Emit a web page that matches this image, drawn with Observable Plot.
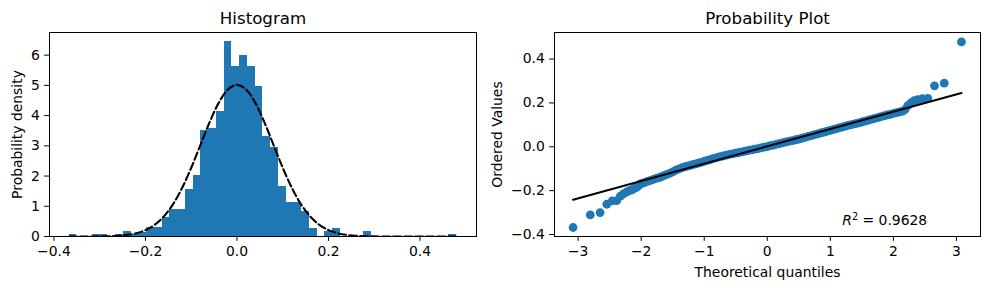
<!DOCTYPE html>
<html><head><meta charset="utf-8">
<script src="https://cdn.jsdelivr.net/npm/d3@7"></script>
<script src="https://cdn.jsdelivr.net/npm/@observablehq/plot@0.6"></script>
<style>
body{margin:0;background:white;}
#wrap{position:relative;width:989px;height:290px;background:white;overflow:hidden;}
#wrap svg{position:absolute;top:0;}
</style></head><body><div id="wrap"></div>
<script>
// ---- Histogram data (50 bins) ----
const binStart = -0.367;
const binWidth = 0.01694;
const binDensity = [
  0.066, 0, 0, 0.066, 0.066, 0, 0.066, 0.176, 0.066, 0.13,
  0.286, 0.286, 0.637, 0.90, 0.90, 1.56, 2.02, 3.52, 3.57, 4.14,
  6.44, 5.615, 5.98, 5.615, 4.96, 3.31, 2.96, 1.67, 1.11, 1.11,
  0.835, 0.275, 0, 0.176, 0.275, 0, 0, 0, 0.176, 0,
  0, 0, 0, 0, 0, 0, 0, 0, 0, 0.066
];
// fitted normal density curve (dashed)
const curveX = [-0.367,-0.34,-0.32,-0.30,-0.28,-0.26,-0.24,-0.22,-0.20,-0.18,-0.16,-0.14,-0.12,-0.10,-0.08,-0.06,-0.04,-0.02,0,
  0.02,0.04,0.06,0.08,0.10,0.12,0.14,0.16,0.18,0.20,0.22,0.24,0.26,0.28,0.30,0.32,0.34,0.38,0.42,0.46,0.48];
const curveY = [0.000,0.001,0.002,0.004,0.010,0.024,0.053,0.109,0.212,0.387,0.662,1.064,1.606,2.275,3.024,3.775,4.421,4.861,5.018,
  4.861,4.421,3.775,3.024,2.275,1.606,1.064,0.662,0.387,0.212,0.109,0.053,0.024,0.010,0.004,0.002,0.001,0,0,0,0];
const histXTicks = [-0.4, -0.2, 0.0, 0.2, 0.4];
const histYTicks = [0, 1, 2, 3, 4, 5, 6];

// ---- Probability plot data ----
const qqTheoretical = [
  -3.08,-2.807,-2.652,-2.545,-2.459,-2.388,-2.330,-2.277,-2.229,-2.186,-2.146,-2.110,-2.076,-2.045,-2.016,
  -2.00,-1.95,-1.90,-1.85,-1.80,-1.75,-1.70,-1.65,-1.60,-1.55,-1.50,-1.45,-1.40,-1.35,-1.30,-1.25,-1.20,-1.15,-1.10,-1.05,
  -1.00,-0.95,-0.90,-0.85,-0.80,-0.75,-0.70,-0.65,-0.60,-0.55,-0.50,-0.45,-0.40,-0.35,-0.30,-0.25,-0.20,-0.15,-0.10,-0.05,
  0.00,0.05,0.10,0.15,0.20,0.25,0.30,0.35,0.40,0.45,0.50,0.55,0.60,0.65,0.70,0.75,0.80,0.85,0.90,0.95,
  1.00,1.05,1.10,1.15,1.20,1.25,1.30,1.35,1.40,1.45,1.50,1.55,1.60,1.65,1.70,1.75,1.80,1.85,1.90,1.95,
  2.00,2.05,2.10,2.146,2.186,2.229,2.277,2.330,2.388,2.459,2.545,2.652,2.807,3.08
];
const qqOrdered = [
  -0.368,-0.310,-0.300,-0.262,-0.247,-0.245,-0.225,-0.214,-0.206,-0.200,-0.196,-0.190,-0.185,-0.178,-0.170,
  -0.168,-0.163,-0.158,-0.153,-0.148,-0.143,-0.139,-0.133,-0.127,-0.121,-0.114,-0.107,-0.101,-0.095,-0.091,-0.087,-0.083,-0.079,-0.075,-0.071,
  -0.066,-0.062,-0.058,-0.053,-0.049,-0.045,-0.042,-0.038,-0.035,-0.032,-0.029,-0.026,-0.023,-0.020,-0.017,-0.014,-0.011,-0.008,-0.005,-0.002,
  0.001,0.005,0.008,0.012,0.015,0.019,0.022,0.026,0.028,0.032,0.035,0.039,0.043,0.047,0.051,0.055,0.059,0.063,0.067,0.071,
  0.075,0.079,0.083,0.087,0.091,0.095,0.099,0.102,0.106,0.109,0.113,0.117,0.121,0.125,0.129,0.133,0.137,0.141,0.145,0.148,
  0.152,0.156,0.159,0.163,0.170,0.188,0.200,0.210,0.215,0.219,0.221,0.278,0.290,0.478
];
const fitX = [-3.08, 3.08];
const fitY = [-0.241, 0.245];
const qqXTicks = [-3, -2, -1, 0, 1, 2, 3];
const qqYTicks = [-0.4, -0.2, 0.0, 0.2, 0.4];
const rSquaredText = "0.9628";

// ---- build ----
const blue = "#1f77b4";
const baseStyle = {fontFamily: "DejaVu Sans", fontSize: "13.9px", color: "black", background: "white", overflow: "visible"};
const tick = {tickSize: 4.86, tickPadding: 4.86, label: null};

const histData = binDensity
  .map((d, i) => ({x1: binStart + i * binWidth, x2: binStart + (i + 1) * binWidth, y: d}))
  .filter(d => d.y > 0);
const curveData = curveX.map((x, i) => ({x, y: curveY[i]}));

const left = Plot.plot({
  width: 490, height: 290,
  marginLeft: 49, marginRight: 14, marginTop: 32, marginBottom: 54,
  style: baseStyle,
  x: {domain: [-0.4098, 0.5235], ticks: histXTicks, tickFormat: d3.format(".1f"), ...tick},
  y: {domain: [0, 6.75], ticks: histYTicks, tickFormat: d3.format("d"), ...tick},
  marks: [
    Plot.rectY(histData, {x1: "x1", x2: "x2", y: "y", fill: blue, inset: 0, shapeRendering: "crispEdges"}),
    Plot.line(curveData, {x: "x", y: "y", stroke: "black", strokeWidth: 2.08, strokeDasharray: "7.7,3.3", curve: "catmull-rom", clip: true}),
    Plot.frame({stroke: "black", strokeWidth: 1}),
    Plot.text(["Histogram"], {frameAnchor: "top", dy: -9, lineAnchor: "bottom", textAnchor: "middle", fontSize: 16.67}),
    Plot.text(["Probability density"], {frameAnchor: "left", rotate: -90, dx: -28, lineAnchor: "bottom", textAnchor: "middle"})
  ]
});

const qqData = qqTheoretical.map((q, i) => ({x: q, y: qqOrdered[i]}));
const fitData = fitX.map((x, i) => ({x, y: fitY[i]}));
const rLabel = "R2 = " + rSquaredText;

const right = Plot.plot({
  width: 499, height: 290,
  marginLeft: 64, marginRight: 9, marginTop: 32, marginBottom: 54,
  style: baseStyle,
  x: {domain: [-3.375, 3.382], ticks: qqXTicks, tickFormat: d3.format("d"), ...tick},
  y: {domain: [-0.409, 0.521], ticks: qqYTicks, tickFormat: d3.format(".1f"), ...tick},
  marks: [
    Plot.dot(qqData, {x: "x", y: "y", r: 4.4, fill: blue, stroke: null}),
    Plot.line(fitData, {x: "x", y: "y", stroke: "black", strokeWidth: 2.08}),
    Plot.frame({stroke: "black", strokeWidth: 1}),
    Plot.text(["Probability Plot"], {frameAnchor: "top", dy: -9, lineAnchor: "bottom", textAnchor: "middle", fontSize: 16.67}),
    Plot.text(["Ordered Values"], {frameAnchor: "left", rotate: -90, dx: -53, lineAnchor: "bottom", textAnchor: "middle"}),
    Plot.text(["Theoretical quantiles"], {frameAnchor: "bottom", dy: 40, lineAnchor: "bottom", textAnchor: "middle"}),
    Plot.text([rLabel], {frameAnchor: "bottom-right", dx: -53.3, dy: -11.3, textAnchor: "end", lineAnchor: "bottom"})
  ]
});

// superscript / italic for R^2 label
right.querySelectorAll("text").forEach(t => {
  if (t.textContent === rLabel) {
    t.textContent = "";
    const ns = "http://www.w3.org/2000/svg";
    const a = document.createElementNS(ns, "tspan");
    a.setAttribute("font-style", "italic"); a.textContent = "R";
    const b = document.createElementNS(ns, "tspan");
    b.setAttribute("font-size", "9.7px"); b.setAttribute("dy", "-5.5"); b.textContent = "2";
    const c = document.createElementNS(ns, "tspan");
    c.setAttribute("dy", "5.5"); c.textContent = " = " + rSquaredText;
    t.append(a, b, c);
  }
});

left.style.left = "0px";
right.style.left = "490px";
document.getElementById("wrap").append(left, right);
</script>
</body></html>
